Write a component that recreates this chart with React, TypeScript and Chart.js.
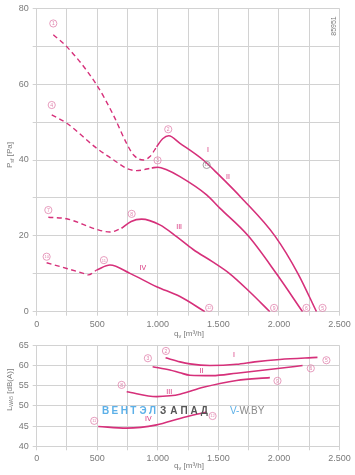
import React, { useEffect, useRef } from 'react';
import { Chart, registerables } from 'chart.js';
Chart.register(...registerables);

// ---------- Pressure chart data (q [m3/h], Psf [Pa]) ----------
const q1Dash = [137, 248, 495, 632, 742, 800, 880, 935, 990];
const p1Dash = [73, 69.9, 59.8, 51.9, 44.4, 41.3, 40, 40.9, 43.5];
const q1 = [990, 1040, 1090, 1183, 1375, 1500, 1691, 1966, 2158, 2310];
const p1 = [43.5, 45.6, 46.4, 44.4, 40, 36.2, 30, 20, 10, 0];

const q2Dash = [124, 248, 495, 632, 742, 825, 950];
const p2Dash = [51.9, 49.7, 43.1, 40.1, 37.8, 37.2, 37.9];
const q2 = [950, 1000, 1073, 1183, 1403, 1512, 1746, 1980, 2195];
const p2 = [37.9, 38.1, 37.4, 35.6, 30.8, 27.3, 20, 10, 0];

const q3Dash = [96, 248, 495, 605, 700];
const p3Dash = [24.9, 24.5, 21.7, 21.0, 22.0];
const q3 = [700, 780, 866, 1017, 1155, 1292, 1450, 1595, 1760, 1925];
const p3 = [22.0, 23.8, 24.4, 22.9, 19.8, 16.4, 13.2, 10, 5.2, 0];

const q4Dash = [82, 248, 385, 426, 495];
const p4Dash = [12.9, 11.4, 10.1, 9.7, 11.0];
const q4 = [495, 605, 770, 990, 1183, 1389];
const p4 = [11.0, 12.3, 10.1, 6.6, 4.0, 0];

// ---------- Sound chart data (q [m3/h], LWA5 [dB(A)]) ----------
const qs1 = [1064, 1183, 1265, 1430, 1650, 1800, 2008, 2318];
const ls1 = [61.9, 60.9, 60.4, 60.0, 60.3, 60.9, 61.5, 62.0];
const qs2 = [957, 1100, 1183, 1265, 1450, 1650, 2008, 2195];
const ls2 = [59.7, 58.9, 58.2, 57.6, 57.5, 58.1, 59.3, 60.0];
const qs3 = [743, 990, 1100, 1183, 1375, 1650, 1925];
const ls3 = [53.5, 52.3, 52.5, 52.9, 54.6, 56.3, 57.0];
const qs4 = [508, 743, 990, 1183, 1403];
const ls4 = [44.9, 44.5, 45.3, 46.9, 48.5];

// ---------- Annotations ----------
const pointLabels = ['1', '2', '3', '4', '5', '6', '7', '8', '9', '10', '11', '12'];
const pointLabelQ = [137, 1086, 998, 124, 2360, 2227, 96, 784, 1960, 82, 555, 1424];
const pointLabelP = [76, 48.1, 39.9, 54.5, 1, 1, 26.8, 25.8, 1, 14.5, 13.6, 1];
const greyLabel = '13';
const greyLabelQ = 1403;
const greyLabelP = 38.7;

const soundLabels = ['2', '3', '8', '11', '5', '6', '9', '12'];
const soundLabelQ = [1067, 918, 701, 475, 2392, 2263, 1988, 1452];
const soundLabelL = [63.6, 61.8, 55.2, 46.3, 61.3, 59.3, 56.2, 47.5];

const romans = ['I', 'II', 'III', 'IV'];
const romanQ = [1414, 1579, 1176, 877];
const romanP = [42.6, 35.5, 22.4, 11.5];
const romanSoundQ = [1628, 1361, 1094, 921];
const romanSoundL = [62.6, 58.6, 53.5, 46.7];

const Q_MIN = 0, Q_MAX = 2500, Q_STEP = 250;
const P_MIN = 0, P_MAX = 80, P_STEP = 10;
const L_MIN = 40, L_MAX = 65, L_STEP = 5;

const LINE = '#d6307a';
const LABEL = '#e184ad';
const GRID = '#d2d2d2';
const TEXT = '#7a7a7a';
const FONT = '"Liberation Sans", Arial, sans-serif';

const pts = (xs: number[], ys: number[]) => xs.map((x, i) => ({ x, y: ys[i] }));
const fmtQ = (v: number) => (v >= 1000 ? Math.floor(v / 1000) + '.' + String(v % 1000).padStart(3, '0') : String(v));

type Part = { t: string; size: number; dy?: number };
function drawRich(ctx: CanvasRenderingContext2D, cx: number, cy: number, parts: Part[], rot: number, color: string) {
  ctx.save();
  ctx.translate(cx, cy);
  ctx.rotate(rot);
  ctx.fillStyle = color;
  ctx.textBaseline = 'middle';
  ctx.textAlign = 'left';
  let total = 0;
  const widths = parts.map((p) => {
    ctx.font = `${p.size}px ${FONT}`;
    const w = ctx.measureText(p.t).width;
    total += w;
    return w;
  });
  let x = -total / 2;
  parts.forEach((p, i) => {
    ctx.font = `${p.size}px ${FONT}`;
    ctx.fillText(p.t, x, p.dy || 0);
    x += widths[i];
  });
  ctx.restore();
}

function circled(ctx: CanvasRenderingContext2D, x: number, y: number, t: string, color: string) {
  ctx.save();
  ctx.beginPath();
  ctx.arc(x, y, 3.6, 0, Math.PI * 2);
  ctx.strokeStyle = color;
  ctx.lineWidth = 0.8;
  ctx.stroke();
  ctx.fillStyle = color;
  ctx.font = `${t.length > 1 ? 4 : 5}px ${FONT}`;
  ctx.textAlign = 'center';
  ctx.textBaseline = 'middle';
  ctx.fillText(t, x, y + 0.3);
  ctx.restore();
}

function solid(data: { x: number; y: number }[]) {
  return { data, borderColor: LINE, borderWidth: 1.6, pointRadius: 0, fill: false, cubicInterpolationMode: 'monotone' as const };
}
function dashed(data: { x: number; y: number }[]) {
  return { ...solid(data), borderDash: [5, 3.5], borderWidth: 1.4 };
}

function xScale(height: number) {
  return {
    type: 'linear' as const,
    min: Q_MIN,
    max: Q_MAX,
    afterFit: (s: any) => { s.height = height; s.paddingLeft = 0; s.paddingRight = 0; },
    ticks: {
      stepSize: Q_STEP,
      autoSkip: false,
      maxRotation: 0,
      padding: 3,
      color: TEXT,
      font: { size: 9, family: FONT },
      callback: (v: any) => (Number(v) % 500 === 0 ? fmtQ(Number(v)) : ''),
    },
    grid: { color: GRID, tickLength: 4, lineWidth: 1 },
    border: { color: GRID },
  };
}
function yScale(min: number, max: number, step: number, every: number) {
  return {
    type: 'linear' as const,
    min,
    max,
    afterFit: (s: any) => { s.width = 36.7; s.paddingTop = 0; s.paddingBottom = 0; },
    ticks: {
      stepSize: step,
      autoSkip: false,
      padding: 4,
      color: TEXT,
      font: { size: 9, family: FONT },
      callback: (v: any) => (Number(v) % every === 0 ? String(v) : ''),
    },
    grid: { color: GRID, tickLength: 4, lineWidth: 1 },
    border: { color: GRID },
  };
}

export default function App() {
  const topRef = useRef<HTMLCanvasElement>(null);
  const botRef = useRef<HTMLCanvasElement>(null);

  useEffect(() => {
    const topPlugin = {
      id: 'topAnno',
      afterDatasetsDraw(chart: any) {
        const { ctx, scales } = chart;
        const xs = scales.x, ys = scales.y;
        pointLabels.forEach((t, i) => circled(ctx, xs.getPixelForValue(pointLabelQ[i]), ys.getPixelForValue(pointLabelP[i]), t, LABEL));
        circled(ctx, xs.getPixelForValue(greyLabelQ), ys.getPixelForValue(greyLabelP), greyLabel, '#8a8a8a');
        ctx.save();
        ctx.fillStyle = LINE;
        ctx.font = `7px ${FONT}`;
        ctx.textAlign = 'center';
        ctx.textBaseline = 'middle';
        romans.forEach((r, i) => ctx.fillText(r, xs.getPixelForValue(romanQ[i]), ys.getPixelForValue(romanP[i])));
        ctx.restore();
        drawRich(ctx, 10, 155, [{ t: 'P', size: 8 }, { t: 'sf', size: 5.5, dy: 2 }, { t: ' [Pa]', size: 8 }], -Math.PI / 2, TEXT);
        drawRich(ctx, 189, 334, [{ t: 'q', size: 8 }, { t: 'v', size: 5.5, dy: 2 }, { t: ' [m³/h]', size: 8 }], 0, TEXT);
        drawRich(ctx, 334, 26, [{ t: '85951', size: 7 }], -Math.PI / 2, TEXT);
      },
    };

    const botPlugin = {
      id: 'botAnno',
      afterDatasetsDraw(chart: any) {
        const { ctx, scales } = chart;
        const xs = scales.x, ys = scales.y;
        soundLabels.forEach((t, i) => circled(ctx, xs.getPixelForValue(soundLabelQ[i]), ys.getPixelForValue(soundLabelL[i]), t, LABEL));
        ctx.save();
        ctx.fillStyle = LINE;
        ctx.font = `7px ${FONT}`;
        ctx.textAlign = 'center';
        ctx.textBaseline = 'middle';
        romans.forEach((r, i) => ctx.fillText(r, xs.getPixelForValue(romanSoundQ[i]), ys.getPixelForValue(romanSoundL[i])));
        ctx.restore();
        drawRich(ctx, 10, 52, [{ t: 'L', size: 8 }, { t: 'WA5', size: 5, dy: 2 }, { t: ' [dB(A)]', size: 8 }], -Math.PI / 2, TEXT);
        drawRich(ctx, 189, 128, [{ t: 'q', size: 8 }, { t: 'v', size: 5.5, dy: 2 }, { t: ' [m³/h]', size: 8 }], 0, TEXT);
        // watermark
        ctx.save();
        ctx.textBaseline = 'middle';
        ctx.textAlign = 'left';
        ctx.font = `bold 10px ${FONT}`;
        ctx.fillStyle = '#5cb0e8';
        'ВЕНТЭЛ'.split('').forEach((c, i) => ctx.fillText(c, 102 + i * 9.4, 73));
        ctx.fillStyle = '#555555';
        'ЗАПАД'.split('').forEach((c, i) => ctx.fillText(c, 160 + i * 10.2, 73));
        ctx.font = `10px ${FONT}`;
        ctx.fillStyle = '#5cb0e8';
        ctx.fillText('V-', 230, 73);
        const w = ctx.measureText('V-').width;
        ctx.fillStyle = '#8a8a8a';
        ctx.fillText('W.BY', 230 + w, 73);
        ctx.restore();
      },
    };

    const top = new Chart(topRef.current!, {
      type: 'line',
      data: {
        datasets: [
          dashed(pts(q1Dash, p1Dash)), solid(pts(q1, p1)),
          dashed(pts(q2Dash, p2Dash)), solid(pts(q2, p2)),
          dashed(pts(q3Dash, p3Dash)), solid(pts(q3, p3)),
          dashed(pts(q4Dash, p4Dash)), solid(pts(q4, p4)),
        ] as any,
      },
      options: {
        animation: false,
        responsive: false,
        maintainAspectRatio: false,
        layout: { padding: { left: 0, right: 15.5, top: 8.3, bottom: 0 } },
        plugins: { legend: { display: false }, tooltip: { enabled: false } },
        scales: { x: xScale(28.3), y: yScale(P_MIN, P_MAX, P_STEP, 20) } as any,
      },
      plugins: [topPlugin],
    });

    const bot = new Chart(botRef.current!, {
      type: 'line',
      data: {
        datasets: [solid(pts(qs1, ls1)), solid(pts(qs2, ls2)), solid(pts(qs3, ls3)), solid(pts(qs4, ls4))] as any,
      },
      options: {
        animation: false,
        responsive: false,
        maintainAspectRatio: false,
        layout: { padding: { left: 0, right: 15.5, top: 7.3, bottom: 0 } },
        plugins: { legend: { display: false }, tooltip: { enabled: false } },
        scales: { x: xScale(28.7), y: yScale(L_MIN, L_MAX, L_STEP, 5) } as any,
      },
      plugins: [botPlugin],
    });

    return () => { top.destroy(); bot.destroy(); };
  }, []);

  return (
    <div style={{ position: 'absolute', left: 0, top: 0, width: 355, height: 475, background: '#fff' }}>
      <canvas ref={topRef} width={355} height={340} style={{ position: 'absolute', left: 0, top: 0, width: 355, height: 340 }} />
      <canvas ref={botRef} width={355} height={137} style={{ position: 'absolute', left: 0, top: 338, width: 355, height: 137 }} />
    </div>
  );
}
